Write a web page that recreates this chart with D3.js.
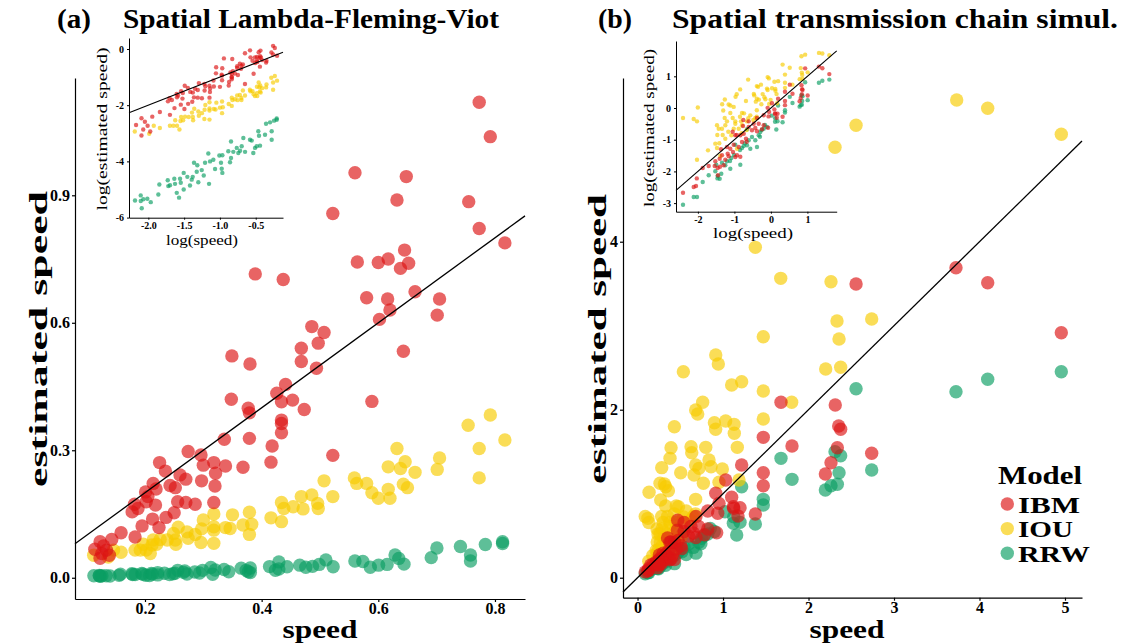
<!DOCTYPE html>
<html>
<head>
<meta charset="utf-8">
<script src="https://cdn.jsdelivr.net/npm/d3@7"></script>
<style>
  body { margin: 0; background: #fff; }
  text { font-family: "Liberation Serif", "DejaVu Serif", serif; }
</style>
</head>
<body>
<svg id="chart" width="1123" height="644"></svg>
<script>
// panel (a): [speed, estimated speed]
const ibmA = [[0.773,1.119],[0.792,1.038],[0.560,0.953],[0.648,0.944],[0.632,0.889],[0.755,0.885],[0.522,0.857],[0.773,0.822],[0.817,0.788],[0.389,0.715],[0.437,0.702],[0.564,0.743],[0.600,0.742],[0.617,0.750],[0.645,0.771],[0.638,0.728],[0.652,0.740],[0.580,0.659],[0.616,0.656],[0.663,0.673],[0.705,0.656],[0.620,0.630],[0.602,0.608],[0.701,0.618],[0.486,0.591],[0.507,0.577],[0.468,0.540],[0.497,0.552],[0.643,0.533],[0.349,0.522],[0.380,0.503],[0.468,0.509],[0.494,0.493],[0.441,0.455],[0.426,0.434],[0.434,0.414],[0.453,0.418],[0.473,0.396],[0.348,0.420],[0.377,0.399],[0.379,0.388],[0.434,0.371],[0.434,0.363],[0.434,0.341],[0.589,0.415],[0.379,0.328],[0.336,0.326],[0.418,0.310],[0.416,0.272],[0.522,0.288],[0.274,0.297],[0.296,0.289],[0.225,0.271],[0.235,0.251],[0.300,0.265],[0.318,0.271],[0.321,0.246],[0.338,0.263],[0.368,0.260],[0.260,0.242],[0.270,0.232],[0.243,0.217],[0.252,0.212],[0.214,0.222],[0.219,0.209],[0.201,0.202],[0.205,0.191],[0.297,0.228],[0.320,0.216],[0.318,0.177],[0.256,0.179],[0.270,0.177],[0.286,0.173],[0.182,0.173],[0.178,0.155],[0.188,0.163],[0.202,0.179],[0.218,0.171],[0.250,0.153],[0.236,0.142],[0.213,0.138],[0.195,0.122],[0.224,0.118],[0.159,0.106],[0.143,0.090],[0.183,0.096],[0.123,0.085],[0.114,0.067],[0.129,0.075],[0.126,0.057],[0.139,0.053],[0.123,0.046],[0.134,0.065]];
const iouA = [[0.792,0.383],[0.754,0.359],[0.817,0.324],[0.773,0.304],[0.773,0.235],[0.632,0.304],[0.705,0.282],[0.617,0.261],[0.638,0.257],[0.646,0.273],[0.701,0.255],[0.663,0.248],[0.559,0.235],[0.563,0.222],[0.580,0.222],[0.643,0.220],[0.650,0.212],[0.617,0.208],[0.589,0.200],[0.600,0.187],[0.620,0.187],[0.507,0.228],[0.522,0.191],[0.486,0.195],[0.468,0.191],[0.496,0.175],[0.497,0.163],[0.434,0.177],[0.438,0.163],[0.454,0.167],[0.471,0.162],[0.416,0.141],[0.434,0.132],[0.379,0.154],[0.350,0.148],[0.318,0.150],[0.300,0.136],[0.368,0.124],[0.383,0.126],[0.379,0.102],[0.318,0.120],[0.318,0.112],[0.338,0.118],[0.346,0.116],[0.297,0.115],[0.318,0.081],[0.296,0.083],[0.257,0.119],[0.272,0.108],[0.274,0.093],[0.286,0.102],[0.249,0.104],[0.252,0.089],[0.238,0.089],[0.253,0.079],[0.226,0.090],[0.214,0.089],[0.212,0.077],[0.220,0.079],[0.197,0.079],[0.202,0.065],[0.183,0.065],[0.209,0.057],[0.192,0.065],[0.159,0.060],[0.146,0.065],[0.112,0.053],[0.137,0.049]];
// RRW in panel (a): [log(speed), log(estimated speed)]
const rrwALog = [[-2.186,-5.39],[-2.106,-5.21],[-2.106,-5.41],[-2.092,-5.67],[-2.070,-5.35],[-2.014,-5.33],[-1.966,-5.45],[-1.860,-5.18],[-1.846,-4.82],[-1.721,-4.88],[-1.729,-4.67],[-1.697,-4.85],[-1.637,-4.62],[-1.627,-4.80],[-1.603,-5.12],[-1.571,-5.29],[-1.557,-4.62],[-1.547,-4.76],[-1.506,-4.41],[-1.506,-5.00],[-1.455,-4.55],[-1.418,-4.86],[-1.394,-4.65],[-1.380,-4.55],[-1.362,-4.05],[-1.316,-4.14],[-1.324,-4.37],[-1.302,-4.74],[-1.254,-4.31],[-1.226,-4.50],[-1.208,-4.05],[-1.162,-3.72],[-1.152,-4.80],[-1.138,-4.00],[-1.092,-3.94],[-1.068,-4.27],[-1.008,-3.79],[-0.985,-4.05],[-0.975,-4.26],[-0.966,-4.41],[-0.966,-3.78],[-0.883,-3.64],[-0.845,-3.29],[-0.845,-3.88],[-0.859,-4.03],[-0.813,-3.66],[-0.765,-3.52],[-0.743,-3.70],[-0.719,-3.62],[-0.696,-3.46],[-0.673,-3.17],[-0.649,-3.66],[-0.580,-3.23],[-0.556,-3.26],[-0.534,-3.70],[-0.510,-3.52],[-0.486,-3.46],[-0.464,-2.93],[-0.454,-3.09],[-0.440,-3.44],[-0.370,-3.05],[-0.277,-2.93],[-0.277,-3.23],[-0.356,-2.66],[-0.300,-2.61],[-0.244,-2.55],[-0.207,-2.52],[-0.207,-2.47]];

// panel (b), sparse part: [speed, estimated speed]
const ibmB = [[3.725,3.690],[4.096,3.512],[2.556,3.496],[4.957,2.917],[1.678,2.088],[2.313,2.056],[2.353,1.806],[2.376,1.767],[1.471,1.671],[1.807,1.568],[2.337,1.548],[2.739,1.481],[2.263,1.369],[2.197,1.235],[1.218,1.342],[1.471,1.250],[1.031,1.163],[1.471,1.095],[0.915,1.005],[1.101,0.957],[1.121,0.845],[1.199,0.833],[1.378,0.758],[0.953,0.885],[0.938,0.767],[0.926,0.536],[1.175,0.734],[1.125,0.826]];
const iouB = [[3.733,5.687],[4.096,5.588],[4.957,5.279],[2.556,5.386],[2.310,5.124],[1.378,3.933],[1.675,3.564],[2.263,3.524],[2.333,3.056],[2.739,3.080],[2.357,2.842],[1.471,2.869],[0.915,2.651],[0.945,2.544],[0.536,2.452],[2.201,2.485],[2.376,2.505],[1.101,2.294],[1.218,2.333],[1.471,2.223],[1.803,2.088],[0.762,2.088],[0.680,1.996],[0.704,1.949],[0.431,1.798],[0.899,1.845],[0.914,1.767],[1.031,1.865],[1.129,1.826],[1.132,1.719],[1.471,1.889],[0.392,1.548],[0.380,1.421],[0.626,1.560],[0.634,1.488],[0.798,1.552],[1.167,1.552],[0.283,1.310],[0.505,1.250],[0.680,1.342],[0.719,1.302],[0.836,1.401],[0.860,1.321],[0.661,1.223],[0.992,1.294],[0.770,1.124],[0.953,1.136],[1.187,1.163],[0.135,1.017],[0.263,1.124],[0.314,1.115],[0.329,1.083],[0.361,1.036],[0.271,0.925],[0.680,0.933]];
const rrwB = [[4.957,2.452],[4.096,2.362],[3.725,2.214],[2.556,2.250],[2.310,1.500],[2.376,1.452],[1.678,1.421],[2.357,1.250],[2.739,1.282],[1.807,1.171],[2.197,1.044],[2.263,1.095],[2.337,1.112],[1.218,1.083],[1.471,0.933],[1.471,0.865],[1.378,0.639],[1.160,0.508],[1.121,0.647],[1.199,0.659],[1.023,0.786],[1.125,0.726]];
// panel (b), dense corner: [log(speed), log(estimated speed)]
const ibmBLog = [[-2.408,-2.672],[-2.115,-2.492],[-2.052,-2.461],[-2.030,-2.220],[-1.868,-1.893],[-1.704,-1.830],[-1.523,-1.681],[-1.540,-1.830],[-1.458,-1.893],[-1.403,-1.599],[-1.367,-1.303],[-1.340,-1.492],[-1.293,-1.808],[-1.249,-1.630],[-1.203,-1.230],[-1.184,-1.442],[-1.156,-1.524],[-1.112,-1.284],[-1.038,-1.388],[-1.019,-1.158],[-0.975,-1.546],[-0.929,-1.492],[-0.838,-1.536],[-0.882,-1.230],[-0.792,-1.073],[-0.975,-0.861],[-0.838,-0.861],[-0.745,-0.811],[-0.764,-0.568],[-0.608,-0.599],[-0.518,-0.703],[-0.427,-0.631],[-0.381,-0.735],[-0.334,-0.495],[-0.244,-0.672],[-0.197,-0.546],[-0.471,-0.495],[-0.682,-0.968],[-1.449,-2.123],[-1.395,-1.852],[-1.047,-0.747],[-0.937,-0.852],[-0.756,-0.379],[-0.663,-1.062],[-0.381,-0.315],[-0.608,-0.420],[-0.197,-0.230]];
const iouBLog = [[-2.408,-0.315],[-2.115,-0.347],[-2.025,-0.420],[-1.266,-0.315],[-1.112,-0.158],[-1.047,-0.315],[-0.792,-0.158],[-0.564,-0.231],[-0.427,-0.315],[-1.203,-0.420],[-0.975,-0.420],[-0.819,-0.420],[-0.655,-0.420],[-1.477,-0.546],[-1.249,-0.546],[-2.025,-1.630],[-1.723,-1.335],[-1.523,-1.125],[-1.477,-1.262],[-1.430,-0.653],[-1.386,-1.514],[-1.340,-0.653],[-1.085,-0.861],[-1.249,-0.968],[-1.019,-0.653],[-0.975,-0.495],[-0.882,-0.653],[-0.929,-1.284],[-0.792,-0.546],[-0.737,-0.168],[-0.389,-0.274],[-0.847,-0.274],[-1.321,-0.852],[-1.167,-0.747],[-0.800,-0.798],[-1.468,-0.852],[-1.414,-1.114],[-0.663,-0.694],[-0.482,-0.379],[-0.619,-0.325]];
const rrwBLog = [[-2.408,-3.050],[-2.115,-2.808],[-2.025,-2.808],[-1.868,-2.334],[-1.704,-2.123],[-1.523,-1.997],[-1.458,-2.145],[-1.403,-2.230],[-1.359,-2.072],[-1.496,-1.789],[-1.340,-1.726],[-1.249,-1.808],[-1.203,-1.681],[-1.112,-1.915],[-1.085,-1.577],[-0.975,-1.158],[-0.838,-1.789],[-0.792,-1.262],[-0.745,-1.199],[-0.655,-1.177],[-0.564,-1.284],[-0.608,-1.019],[-0.518,-0.915],[-0.427,-1.019],[-0.381,-1.230],[-0.334,-0.861],[-0.290,-0.757],[-0.197,-0.653],[-0.107,-0.599],[-0.655,-0.672],[-1.120,-1.670],[-1.010,-1.480],[-0.847,-1.325],[-0.710,-1.110],[-0.300,-0.905],[-0.252,-0.694],[-0.162,-0.536],[-1.464,-2.220]];

const models = ["IBM", "IOU", "RRW"];
const modelColor = { IBM: "#dc1414", IOU: "#f7cb00", RRW: "#0b9e63" };

const toLog = (pts) => pts.map((d) => [Math.log(d[0]), Math.log(d[1])]);
const toLin = (pts) => pts.map((d) => [Math.exp(d[0]), Math.exp(d[1])]);
const minus = (f) => (d) => f(d).replace("−", "-");

const svg = d3.select("#chart");

function drawPanel(cfg) {
  const x = cfg.x, y = cfg.y;
  const g = svg.append("g");

  // RRW first, IBM last so red ends up on top
  ["RRW", "IOU", "IBM"].forEach((m) => {
    g.append("g")
      .selectAll("circle")
      .data(cfg.data[m])
      .join("circle")
      .attr("cx", (d) => x(d[0]))
      .attr("cy", (d) => y(d[1]))
      .attr("r", cfg.r)
      .attr("fill", modelColor[m])
      .attr("fill-opacity", 0.66);
  });

  // y = x reference line, kept inside the panel
  const lo = Math.max(x.domain()[0], y.domain()[0]),
    hi = Math.min(x.domain()[1], y.domain()[1]);
  g.append("line")
    .attr("x1", x(lo)).attr("y1", y(lo))
    .attr("x2", x(hi)).attr("y2", y(hi))
    .attr("stroke", "#000")
    .attr("stroke-width", cfg.lw);

  const xAxis = g.append("g")
    .attr("transform", `translate(0,${y.range()[0]})`)
    .call(d3.axisBottom(x).tickValues(cfg.xTicks).tickFormat(cfg.xFormat)
      .tickSize(cfg.tick).tickSizeOuter(0).tickPadding(cfg.pad));
  const yAxis = g.append("g")
    .attr("transform", `translate(${x.range()[0]},0)`)
    .call(d3.axisLeft(y).tickValues(cfg.yTicks).tickFormat(cfg.yFormat)
      .tickSize(cfg.tick).tickSizeOuter(0).tickPadding(cfg.pad + 1));
  [xAxis, yAxis].forEach((a) => {
    a.select(".domain").attr("stroke", "#000").attr("stroke-width", cfg.axisW);
    a.selectAll(".tick line").attr("stroke", "#000").attr("stroke-width", cfg.axisW);
    a.selectAll("text")
      .attr("fill", "#000")
      .style("font-family", '"Liberation Serif", serif')
      .style("font-weight", "bold")
      .style("font-size", cfg.tickFont + "px");
  });

  const lab = cfg.labels;
  g.append("text")
    .attr("x", lab.xPos[0]).attr("y", lab.xPos[1])
    .attr("text-anchor", "middle")
    .attr("textLength", lab.xLen).attr("lengthAdjust", "spacingAndGlyphs")
    .style("font-size", lab.size + "px")
    .style("font-weight", lab.weight)
    .text(lab.x);
  g.append("text")
    .attr("transform", `translate(${lab.yPos[0]},${lab.yPos[1]}) rotate(-90)`)
    .attr("text-anchor", "middle")
    .attr("textLength", lab.yLen).attr("lengthAdjust", "spacingAndGlyphs")
    .style("font-size", lab.size + "px")
    .style("font-weight", lab.weight)
    .text(lab.y);
}

// ---- panel (a)
const xA = d3.scaleLinear().domain([0.08, 0.8515]).range([75, 525]);
const yA = d3.scaleLinear().domain([-0.05, 1.176]).range([599, 78]);
drawPanel({
  x: xA, y: yA, r: 6.7, lw: 1.3, tick: 3, pad: 1, axisW: 1.2, tickFont: 16,
  data: { IBM: ibmA, IOU: iouA, RRW: toLin(rrwALog) },
  xTicks: [0.2, 0.4, 0.6, 0.8], xFormat: d3.format(".1f"),
  yTicks: [0, 0.3, 0.6, 0.9], yFormat: d3.format(".1f"),
  labels: { x: "speed", y: "estimated speed", size: 26, weight: "bold",
    xPos: [320, 638], xLen: 75, yPos: [47, 339], yLen: 296 },
});

const xAi = d3.scaleLinear().domain([-2.27, -0.119]).range([129, 283]);
const yAi = d3.scaleLinear().domain([-6.004, 0.391]).range([217.7, 38]);
drawPanel({
  x: xAi, y: yAi, r: 2.2, lw: 1.1, tick: 2, pad: 2, axisW: 1, tickFont: 10,
  data: { IBM: toLog(ibmA), IOU: toLog(iouA), RRW: rrwALog },
  xTicks: [-2, -1.5, -1, -0.5], xFormat: minus(d3.format(".1f")),
  yTicks: [-6, -4, -2, 0], yFormat: minus(d3.format("d")),
  labels: { x: "log(speed)", y: "log(estimated speed)", size: 15, weight: "normal",
    xPos: [202, 245], xLen: 72, yPos: [107, 129], yLen: 163 },
});

// ---- panel (b)
const xB = d3.scaleLinear().domain([-0.17, 5.199]).range([623, 1082]);
const yB = d3.scaleLinear().domain([-0.238, 5.949]).range([597.7, 78]);
drawPanel({
  x: xB, y: yB, r: 6.7, lw: 1.3, tick: 3, pad: 1, axisW: 1.2, tickFont: 16,
  data: {
    IBM: ibmB.concat(toLin(ibmBLog)),
    IOU: iouB.concat(toLin(iouBLog)),
    RRW: rrwB.concat(toLin(rrwBLog)),
  },
  xTicks: [0, 1, 2, 3, 4, 5], xFormat: d3.format("d"),
  yTicks: [0, 2, 4], yFormat: d3.format("d"),
  labels: { x: "speed", y: "estimated speed", size: 26, weight: "bold",
    xPos: [847, 638], xLen: 75, yPos: [606, 339], yLen: 290 },
});

const xBi = d3.scaleLinear().domain([-2.6, 1.803]).range([676, 836.7]);
const yBi = d3.scaleLinear().domain([-3.271, 2.114]).range([211.7, 41]);
drawPanel({
  x: xBi, y: yBi, r: 2.2, lw: 1.1, tick: 2, pad: 2, axisW: 1, tickFont: 10,
  data: {
    IBM: toLog(ibmB).concat(ibmBLog),
    IOU: toLog(iouB).concat(iouBLog),
    RRW: toLog(rrwB).concat(rrwBLog),
  },
  xTicks: [-2, -1, 0, 1], xFormat: minus(d3.format("d")),
  yTicks: [-3, -2, -1, 0, 1], yFormat: minus(d3.format("d")),
  labels: { x: "log(speed)", y: "log(estimated speed)", size: 15, weight: "normal",
    xPos: [753, 238], xLen: 80, yPos: [654, 128], yLen: 158 },
});

// ---- titles
const titles = [
  { tag: "(a)", tagX: 57, text: "Spatial Lambda-Fleming-Viot", x: 123, len: 376 },
  { tag: "(b)", tagX: 598, text: "Spatial transmission chain simul.", x: 672, len: 446 },
];
titles.forEach((t) => {
  svg.append("text").attr("x", t.tagX).attr("y", 28)
    .attr("textLength", 34).attr("lengthAdjust", "spacingAndGlyphs")
    .style("font-size", "28px").style("font-weight", "bold").text(t.tag);
  svg.append("text").attr("x", t.x).attr("y", 28)
    .attr("textLength", t.len).attr("lengthAdjust", "spacingAndGlyphs")
    .style("font-size", "28px").style("font-weight", "bold").text(t.text);
});

// ---- legend
const legend = svg.append("g");
legend.append("text").attr("x", 998).attr("y", 484)
  .attr("textLength", 84).attr("lengthAdjust", "spacingAndGlyphs")
  .style("font-size", "26px").style("font-weight", "bold").text("Model");
const legendLen = { IBM: 62, IOU: 55, RRW: 72 };
models.forEach((m, i) => {
  const cy = 504 + i * 24.6;
  legend.append("circle").attr("cx", 1007.3).attr("cy", cy).attr("r", 6.7)
    .attr("fill", modelColor[m]).attr("fill-opacity", 0.66);
  legend.append("text").attr("x", 1018).attr("y", cy + 8.6)
    .attr("textLength", legendLen[m]).attr("lengthAdjust", "spacingAndGlyphs")
    .style("font-size", "24px").style("font-weight", "bold").text(m);
});
</script>
</body>
</html>
